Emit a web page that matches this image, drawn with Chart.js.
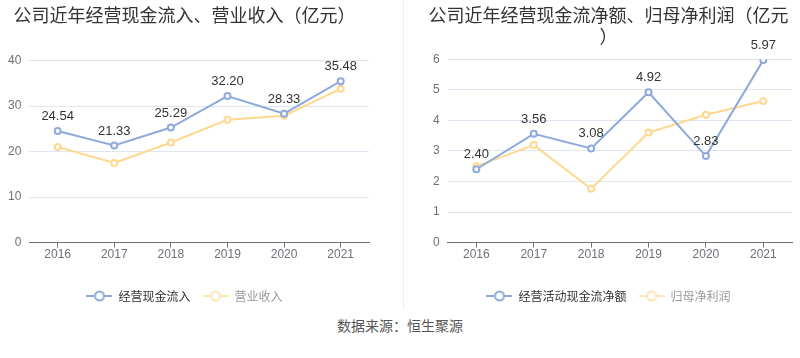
<!DOCTYPE html>
<html>
<head>
<meta charset="utf-8">
<script src="https://cdn.jsdelivr.net/npm/chart.js@4/dist/chart.umd.min.js"></script>
<style>
  html, body { margin: 0; padding: 0; background: #fff; }
  #wrap { position: relative; width: 800px; height: 358px; overflow: hidden; font-family: "Liberation Sans", "Noto Sans CJK SC", sans-serif; }
  .box { position: absolute; top: 0; height: 312px; }
  #divider { position: absolute; left: 403px; top: 0; width: 1px; height: 310px; background: #eeeeee; }
  #source { position: absolute; left: 0; width: 800px; top: 315px; text-align: center; font-size: 14px; color: #555; font-family: "Noto Sans CJK SC", sans-serif; }
</style>
</head>
<body>
<div id="wrap">
  <div class="box" style="left:0;width:380px;"><canvas id="c1"></canvas></div>
  <div class="box" style="left:420px;width:380px;"><canvas id="c2"></canvas></div>
  <div id="divider"></div>
  <div id="source">数据来源：恒生聚源</div>
</div>
<script>
// ---- data ----
const years = ['2016', '2017', '2018', '2019', '2020', '2021'];
const cashInflow = [24.54, 21.33, 25.29, 32.20, 28.33, 35.48];
const revenue = [21.0, 17.5, 22.0, 27.0, 27.9, 33.8];
const netCashFlow = [2.40, 3.56, 3.08, 4.92, 2.83, 5.97];
const netProfit = [2.50, 3.19, 1.76, 3.60, 4.18, 4.63];
const leftTitle = '公司近年经营现金流入、营业收入（亿元）';
const rightTitle = ['公司近年经营现金流净额、归母净利润（亿元', '）'];
const leftNames = ['经营现金流入', '营业收入'];
const rightNames = ['经营活动现金流净额', '归母净利润'];

const BLUE = '#8eaadb';
const ORANGE = '#ffd88f';
const FONT = '"Liberation Sans", "Noto Sans CJK SC", sans-serif';

function legendIcon(color) {
  const c = document.createElement('canvas');
  c.width = 26; c.height = 12;
  const x = c.getContext('2d');
  x.strokeStyle = color; x.lineWidth = 2;
  x.beginPath(); x.moveTo(0, 6); x.lineTo(26, 6); x.stroke();
  x.beginPath(); x.arc(13, 6, 4.5, 0, Math.PI * 2);
  x.fillStyle = '#fff'; x.fill(); x.stroke();
  return c;
}
const iconBlue = legendIcon(BLUE);
const iconOrange = legendIcon('#ffe4b8');

const valueLabels = {
  id: 'valueLabels',
  afterDatasetsDraw(chart) {
    const ctx = chart.ctx;
    const meta = chart.getDatasetMeta(0);
    const ds = chart.data.datasets[0];
    ctx.save();
    ctx.font = '13px ' + FONT;
    ctx.fillStyle = '#333';
    ctx.textAlign = 'center';
    ctx.textBaseline = 'alphabetic';
    meta.data.forEach((pt, i) => {
      ctx.fillText(ds.data[i].toFixed(2), pt.x, pt.y - 11);
    });
    ctx.restore();
  }
};

function makeChart(id, title, names, s1, s2, yMax, step, pad, titlePad) {
  return new Chart(document.getElementById(id), {
    type: 'line',
    data: {
      labels: years,
      datasets: [
        { label: names[0], data: s1, borderColor: BLUE, backgroundColor: '#fff', borderWidth: 2,
          pointRadius: 3, pointBorderWidth: 2, pointBackgroundColor: '#fff', pointBorderColor: BLUE, tension: 0 },
        { label: names[1], data: s2, borderColor: ORANGE, backgroundColor: '#fff', borderWidth: 2,
          pointRadius: 3, pointBorderWidth: 2, pointBackgroundColor: '#fff', pointBorderColor: ORANGE, tension: 0 }
      ]
    },
    options: {
      responsive: true,
      maintainAspectRatio: false,
      animation: false,
      layout: { padding: pad },
      plugins: {
        title: { display: true, text: title, color: '#333', font: { size: 18, family: '"Noto Sans CJK SC", sans-serif', weight: 'normal' },
                 padding: titlePad },
        legend: {
          position: 'bottom',
          labels: {
            usePointStyle: true,
            pointStyleWidth: 26,
            boxHeight: 12,
            padding: 12,
            font: { size: 12, family: '"Noto Sans CJK SC", sans-serif' },
            generateLabels(chart) {
              return [
                { text: names[0], fillStyle: '#fff', strokeStyle: 'rgba(0,0,0,0)', lineWidth: 0, pointStyle: iconBlue, fontColor: '#333', datasetIndex: 0, hidden: false },
                { text: names[1], fillStyle: '#fff', strokeStyle: 'rgba(0,0,0,0)', lineWidth: 0, pointStyle: iconOrange, fontColor: '#999', datasetIndex: 1, hidden: false }
              ];
            }
          }
        },
        tooltip: { enabled: false }
      },
      scales: {
        x: {
          offset: true,
          grid: { display: true, drawOnChartArea: false, drawTicks: true, tickLength: 5, color: '#6e7079', offset: false },
          border: { display: true, color: '#6e7079' },
          ticks: { color: '#6e7079', font: { size: 12, family: FONT }, padding: 0 },
          afterFit(scale) { scale.height += 16; }
        },
        y: {
          min: 0, max: yMax,
          ticks: { stepSize: step, color: '#6e7079', font: { size: 12, family: FONT }, padding: 8 },
          grid: { color: '#e0e6f1', drawTicks: false },
          border: { display: false }
        }
      }
    },
    plugins: [valueLabels]
  });
}

makeChart('c1', leftTitle, leftNames, cashInflow, revenue, 40, 10, { left: 0, right: 11, top: 0, bottom: 0 }, { top: 4, bottom: 35 });
makeChart('c2', rightTitle, rightNames, netCashFlow, netProfit, 6, 1, { left: 5, right: 8, top: 0, bottom: 0 }, { top: 4, bottom: 12 });
</script>
</body>
</html>
